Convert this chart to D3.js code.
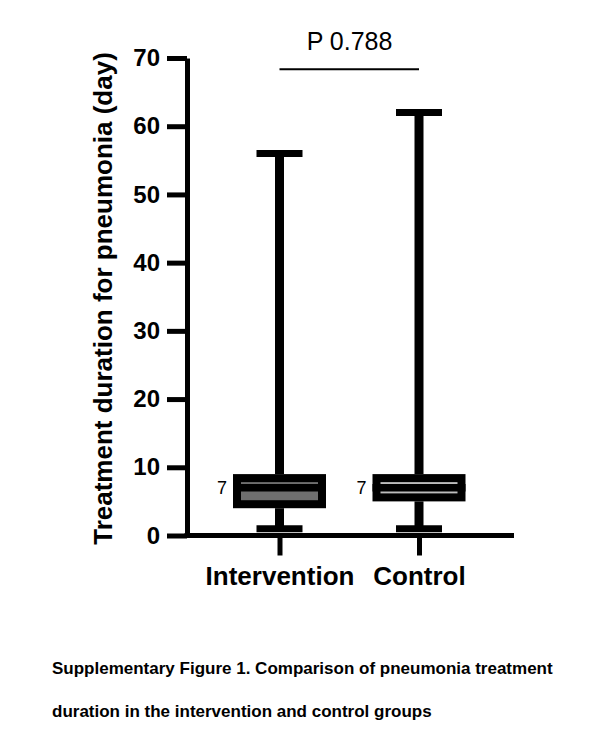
<!DOCTYPE html>
<html lang="en">
<head>
<meta charset="utf-8">
<title>Pneumonia treatment duration</title>
<script src="https://cdn.jsdelivr.net/npm/d3@7"></script>
<style>
  body { margin: 0; background: #fff; }
  svg { display: block; font-family: Arial, "Liberation Sans", sans-serif; }
</style>
</head>
<body>
<svg id="chart" width="614" height="729"></svg>
<script>
// box plot summaries (days)
const groups = ["Intervention", "Control"];
const mins = [1, 1];
const q1s = [4, 5];
const medians = [7, 7];
const q3s = [9, 9];
const maxs = [56, 62];
const yTicks = [0, 10, 20, 30, 40, 50, 60, 70];
const pLabel = "P 0.788";
const caption = [
  "Supplementary Figure 1. Comparison of pneumonia treatment",
  "duration in the intervention and control groups"
];

const svg = d3.select("#chart");
svg.append("rect").attr("width", 614).attr("height", 729).attr("fill", "#fff");

let y = d3.scaleLinear().domain([0, 70]).range([535.5, 58]);
let x = d3.scalePoint().domain(groups).range([279.5, 419]);
let fill = d3.scaleOrdinal().domain(groups).range(["#6f6f6f", "#bdbdbd"]);

const boxW = 93, capW = 46, boxStroke = 8;

// y axis
let yAxis = svg.append("g")
  .attr("transform", "translate(187,0)")
  .call(d3.axisLeft(y).tickValues(yTicks).tickSize(20).tickSizeOuter(0).tickPadding(7));
yAxis.select(".domain").attr("stroke-width", 5);
yAxis.selectAll(".tick line").attr("stroke-width", 5);
yAxis.selectAll(".tick text")
  .attr("font-size", 24).attr("font-weight", "bold").attr("fill", "#000")
  .attr("font-family", "Arial, 'Liberation Sans', sans-serif");

// x axis
let xAxis = svg.append("g")
  .attr("transform", "translate(0,535.5)")
  .call(d3.axisBottom(x).tickSize(20).tickPadding(11));
xAxis.select(".domain").remove();
xAxis.selectAll(".tick line").attr("stroke-width", 5);
xAxis.selectAll(".tick text")
  .attr("font-size", 26).attr("font-weight", "bold").attr("fill", "#000")
  .attr("font-family", "Arial, 'Liberation Sans', sans-serif");
svg.append("line")
  .attr("x1", 184.5).attr("x2", 514)
  .attr("y1", y(0)).attr("y2", y(0))
  .attr("stroke", "#000").attr("stroke-width", 5);

// boxes
let box = svg.selectAll("g.box")
  .data(groups).enter()
  .append("g").attr("class", "box");

box.append("line")
  .attr("x1", d => x(d)).attr("x2", d => x(d))
  .attr("y1", (d, i) => y(maxs[i])).attr("y2", (d, i) => y(q3s[i]))
  .attr("stroke", "#000").attr("stroke-width", 9);
box.append("line")
  .attr("x1", d => x(d)).attr("x2", d => x(d))
  .attr("y1", (d, i) => y(q1s[i])).attr("y2", (d, i) => y(mins[i]))
  .attr("stroke", "#000").attr("stroke-width", 9);

[maxs, mins].forEach(vals => {
  box.append("line")
    .attr("x1", d => x(d) - capW / 2).attr("x2", d => x(d) + capW / 2)
    .attr("y1", (d, i) => y(vals[i])).attr("y2", (d, i) => y(vals[i]))
    .attr("stroke", "#000").attr("stroke-width", 7);
});

box.append("rect")
  .attr("x", d => x(d) - boxW / 2 + boxStroke / 2)
  .attr("width", boxW - boxStroke)
  .attr("y", (d, i) => y(q3s[i]) + boxStroke / 2)
  .attr("height", (d, i) => y(q1s[i]) - y(q3s[i]) - boxStroke)
  .attr("fill", d => fill(d))
  .attr("stroke", "#000").attr("stroke-width", boxStroke);

box.append("line")
  .attr("x1", d => x(d) - boxW / 2).attr("x2", d => x(d) + boxW / 2)
  .attr("y1", (d, i) => y(medians[i])).attr("y2", (d, i) => y(medians[i]))
  .attr("stroke", "#000").attr("stroke-width", 7.5);

box.append("text")
  .attr("x", d => x(d) - 52.5)
  .attr("y", (d, i) => y(medians[i]) + 6.5)
  .attr("text-anchor", "end")
  .attr("font-size", 18)
  .text((d, i) => medians[i]);

// significance bracket
svg.append("line")
  .attr("x1", x(groups[0])).attr("x2", x(groups[1]))
  .attr("y1", 69.3).attr("y2", 69.3)
  .attr("stroke", "#000").attr("stroke-width", 2);
svg.append("text")
  .attr("x", 349.5).attr("y", 49.5)
  .attr("text-anchor", "middle")
  .attr("font-size", 25)
  .text(pLabel);

// y title
svg.append("text")
  .attr("transform", "translate(111.7,298.5) rotate(-90)")
  .attr("text-anchor", "middle")
  .attr("font-size", 26).attr("font-weight", "bold")
  .text("Treatment duration for pneumonia (day)");

// caption
svg.selectAll("text.caption")
  .data(caption).enter()
  .append("text").attr("class", "caption")
  .attr("x", 52).attr("y", (d, i) => 674 + i * 43)
  .attr("font-size", 17).attr("font-weight", "bold")
  .text(d => d);
</script>
</body>
</html>
